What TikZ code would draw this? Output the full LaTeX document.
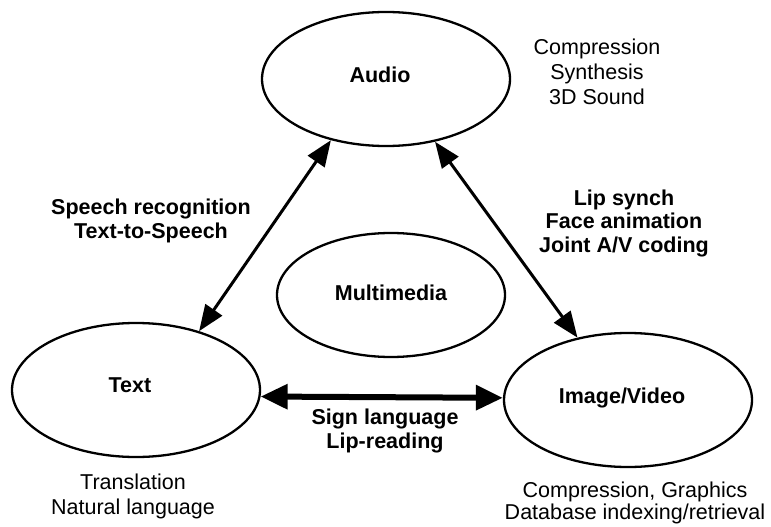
\documentclass[tikz,border=0pt]{standalone}
\usepackage{fontspec}
\setmainfont{Liberation Sans}
\usetikzlibrary{shapes.geometric,arrows.meta}
\tikzset{
  ell/.style={draw, ellipse, line width=2.3pt, inner sep=0pt, font=\fontsize{21.5}{25}\selectfont\bfseries},
  boldlbl/.style={font=\fontsize{21.5}{23.5}\selectfont\bfseries, align=center, inner sep=0pt},
  plainlbl/.style={font=\fontsize{21.5}{25}\selectfont, align=center, inner sep=0pt},
  link/.style={line width=3pt, {Triangle[length=26pt,width=20pt]}-{Triangle[length=26pt,width=20pt]}},
  thicklink/.style={line width=6pt, {Triangle[length=27pt,width=24pt]}-{Triangle[length=27pt,width=24pt]}}
}
\begin{document}
\begin{tikzpicture}[x=1pt,y=-1pt]
\useasboundingbox (0,0) rectangle (771,527);
\node[ell, minimum width=248pt, minimum height=134pt] (audio) at (386,79) {\raisebox{9pt}{Audio}\hspace*{12pt}};
\node[ell, minimum width=228pt, minimum height=124pt] (multi) at (391,295) {\raisebox{5pt}{Multimedia}};
\node[ell, minimum width=248pt, minimum height=134pt] (text) at (136,390) {\raisebox{10pt}{Text}\hspace*{12pt}};
\node[ell, minimum width=248pt, minimum height=134pt] (image) at (628,400) {\raisebox{8pt}{Image/Video}\hspace*{12pt}};

\draw[link] (text.43) -- (audio.-132);
\draw[link] (audio.-52) -- (image.129);
\draw[thicklink] (text.-3.7) -- (image.179);

\node[plainlbl] (audionotes) at (597,72) {Compression\\Synthesis\\3D Sound};
\node[boldlbl] (stt) at (151,221) {Speech recognition\\Text-to-Speech};
\node[boldlbl] (lip) at (624,223) {Lip synch\\Face animation\\Joint A/V coding};
\node[boldlbl] (sign) at (385,431) {Sign language\\Lip-reading};
\node[plainlbl] (textnotes) at (133,496) {Translation\\Natural language};
\node[plainlbl, font=\fontsize{21.5}{22}\selectfont] (imgnotes) at (635,503) {Compression, Graphics\\Database indexing/retrieval};
\end{tikzpicture}
\end{document}
